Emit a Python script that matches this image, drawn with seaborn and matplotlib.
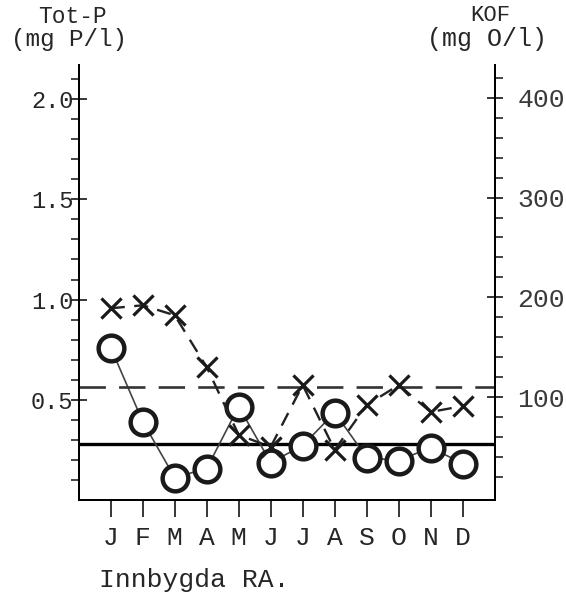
import matplotlib
matplotlib.use("Agg")
import matplotlib.pyplot as plt
import numpy as np
import pandas as pd
import seaborn as sns

# data
months = ["J", "F", "M", "A", "M", "J", "J", "A", "S", "O", "N", "D"]
month_no = list(range(1, 13))
tot_p = [0.76, 0.39, 0.11, 0.155, 0.465, 0.185, 0.27, 0.435, 0.21, 0.195, 0.26, 0.18]   # mg P/l, circles
kof = [189, 192, 182, 130, 62, 50, 112, 47, 92, 112, 85, 91]                               # mg O/l, crosses
tot_p_mean = 0.28
kof_mean = 110
left_ticks = [0.5, 1.0, 1.5, 2.0]
right_ticks = [100, 200, 300, 400]
station = "Innbygda RA."

sns.set_style("white")
plt.rcParams['font.family'] = ['Liberation Mono', 'DejaVu Sans Mono']

df = pd.DataFrame({'month': month_no, 'totp': tot_p, 'kof': kof})

fig = plt.figure(figsize=(5.66, 5.96), dpi=100)
ax = fig.add_axes([0.1396, 0.161, 0.735, 0.730])
ax2 = ax.twinx()

# Tot-P series, solid line with open circles
sns.lineplot(data=df, x='month', y='totp', ax=ax, color='#444444', lw=1.2,
             marker='o', markersize=18.5, markerfacecolor='white',
             markeredgecolor='#1a1a1a', markeredgewidth=3.2, zorder=4)
ax.axhline(tot_p_mean, color='black', lw=2.4, zorder=3)

# KOF series, dashed line with crosses
sns.lineplot(data=df, x='month', y='kof', ax=ax2, color='#222222', lw=1.7,
             linestyle=(0, (6, 4)), zorder=3)
sns.scatterplot(data=df, x='month', y='kof', ax=ax2, marker='x', s=210,
                color='#1a1a1a', linewidth=2.3, zorder=3)
ax2.axhline(kof_mean, color='#333333', lw=1.9, dashes=(10, 5), zorder=2)

ax.set_xlim(0.01, 13.01)
ax.set_ylim(-0.0025, 2.1725)
ax2.set_ylim(-3.3, 433)

ax.set_xticks(month_no)
ax.set_xticklabels(months, fontsize=19)
ax.set_yticks(left_ticks)
ax.set_yticklabels([f"{v:.1f}" for v in left_ticks], fontsize=17)
ax.set_yticks(np.arange(0.1, 2.15, 0.1), minor=True)
ax2.set_yticks(right_ticks)
ax2.set_yticklabels([str(v) for v in right_ticks], fontsize=19, color='#3a3a3a')
ax2.set_yticks(np.arange(20, 430, 20), minor=True)

ax.set_xlabel('')
ax.set_ylabel('')
ax2.set_ylabel('')

ax.tick_params(axis='x', direction='out', length=12, width=1.3, pad=7, bottom=True)
ax.tick_params(axis='y', which='major', direction='inout', length=12, width=1.3, left=True, pad=-2)
ax.tick_params(axis='y', which='minor', direction='out', length=6, width=1.2, left=True)
ax2.tick_params(axis='y', which='major', direction='inout', length=12, width=1.3, right=True, pad=10)
ax2.tick_params(axis='y', which='minor', direction='out', length=6, width=1.2, right=True)

for a in (ax, ax2):
    a.spines['top'].set_visible(False)
    for s in ('left', 'right', 'bottom'):
        a.spines[s].set_linewidth(1.4)
        a.spines[s].set_color('black')
ax.set_facecolor('none')

# axis titles, typewriter style
fig.text(0.128, 0.962, "Tot-P", fontsize=16.5, ha='center', va='baseline')
fig.text(0.122, 0.923, "(mg P/l)", fontsize=17.5, ha='center', va='baseline')
fig.text(0.866, 0.964, "KOF", fontsize=16, ha='center', va='baseline')
fig.text(0.86, 0.922, "(mg O/l)", fontsize=18, ha='center', va='baseline')
fig.text(0.175, 0.015, station, fontsize=19, ha='left', va='baseline')

fig.savefig("out.png", dpi=100, facecolor='white')
